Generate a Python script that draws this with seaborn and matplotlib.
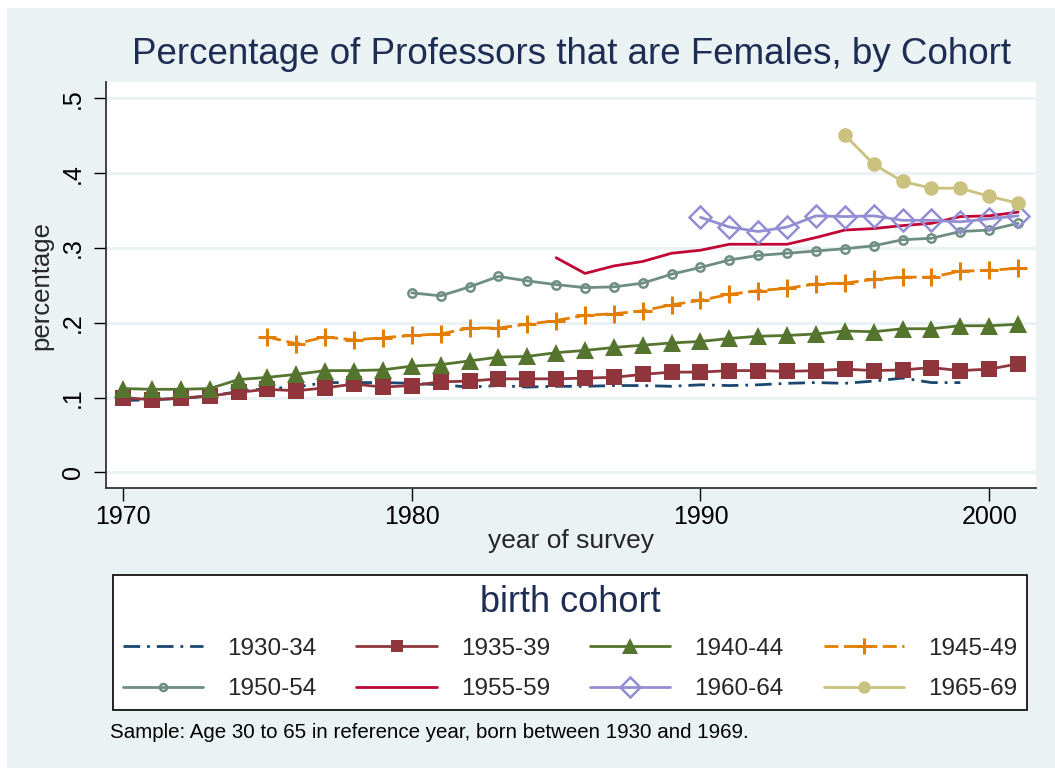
import numpy as np
import pandas as pd
import matplotlib
matplotlib.use('Agg')
import matplotlib.pyplot as plt
from matplotlib.patches import Rectangle
import seaborn as sns

# Data (share of professors that are female)
cohorts = ['1930-34', '1935-39', '1940-44', '1945-49',
           '1950-54', '1955-59', '1960-64', '1965-69']
first_year = [1970, 1970, 1970, 1975, 1980, 1985, 1990, 1995]

c1930 = [.096, .097, .099, .102, .108, .112, .114, .120, .120, .120,
         .119, .117, .114, .116, .114, .115, .115, .116, .116, .115,
         .117, .116, .117, .119, .120, .119, .122, .126, .120, .120]
c1935 = [.100, .097, .099, .102, .107, .111, .109, .113, .118, .114,
         .116, .121, .122, .125, .125, .125, .126, .127, .131, .134,
         .134, .136, .136, .135, .136, .138, .136, .137, .140, .136,
         .138, .145]
c1940 = [.112, .111, .111, .112, .124, .127, .131, .136, .136, .137,
         .142, .144, .149, .154, .155, .160, .163, .167, .170, .173,
         .175, .179, .182, .183, .185, .189, .188, .192, .192, .196,
         .196, .198]
c1945 = [.181, .172, .181, .177, .180, .183, .185, .193, .193, .198,
         .203, .210, .212, .216, .224, .230, .238, .243, .246, .252,
         .253, .258, .261, .261, .269, .270, .273]
c1950 = [.240, .236, .248, .262, .256, .251, .247, .248, .253, .265,
         .274, .284, .290, .293, .296, .299, .303, .311, .313, .322,
         .324, .333]
c1955 = [.287, .266, .276, .282, .293, .297, .305, .305, .305, .314,
         .324, .326, .330, .333, .342, .343, .348]
c1960 = [.341, .328, .322, .328, .343, .342, .343, .337, .337, .335,
         .339, .343]
c1965 = [.451, .412, .389, .380, .380, .369, .360]

series = [c1930, c1935, c1940, c1945, c1950, c1955, c1960, c1965]

rows = []
for name, start, vals in zip(cohorts, first_year, series):
    for i, v in enumerate(vals):
        rows.append({'year': start + i, 'pct': v, 'cohort': name})
df = pd.DataFrame(rows)

# Stata s2color look
colors = ['#1a476f', '#90353b', '#55752f', '#e37e00',
          '#6e8e84', '#c10534', '#938dd2', '#cac27e']
markers = [None, 's', '^', '+', 'o', None, 'D', 'o']
msizes = [0, 11, 13, 13, 6, 0, 11.5, 10.5]
mfaces = [None, None, None, None, 'none', None, 'none', None]
mews = [0, 0, 0, 2.2, 1.8, 0, 1.8, 0]
styles = [(0, (6, 2.5, 1, 2.5)), '-', '-', (0, (5, 2)), '-', '-', '-', '-']

sns.set_style('white')
plt.rcParams['font.family'] = ['Liberation Sans', 'DejaVu Sans']

bg = '#eaf2f3'
navy = '#1e2d53'
fig = plt.figure(figsize=(10.55, 7.68), dpi=100)
fig.patch.set_facecolor('white')
fig.add_artist(Rectangle((7 / 1055, 0), 1, 1 - 8 / 768, transform=fig.transFigure,
                         facecolor=bg, edgecolor='none', zorder=-10))

ax = fig.add_axes([106 / 1055, 1 - 488 / 768, 930 / 1055, 406 / 768])
ax.set_facecolor('white')

handles = []
for k, name in enumerate(cohorts):
    sub = df[df['cohort'] == name]
    sns.lineplot(data=sub, x='year', y='pct', ax=ax, color=colors[k],
                 linestyle=styles[k], linewidth=2.0, marker=markers[k],
                 markersize=msizes[k], markeredgewidth=mews[k],
                 markerfacecolor=mfaces[k] if mfaces[k] else colors[k],
                 markeredgecolor=colors[k], errorbar=None, zorder=3 + k)
    handles.append(ax.lines[-1])

ax.set_xlim(1969.41, 2001.62)
ax.set_ylim(-0.021, 0.522)
ax.set_xticks([1970, 1980, 1990, 2000])
ax.set_yticks([0, .1, .2, .3, .4, .5])
ax.set_yticklabels(['0', '.1', '.2', '.3', '.4', '.5'], rotation=90, va='center')
ax.tick_params(axis='both', direction='out', length=9, width=1, colors='black',
               labelsize=18, left=True, bottom=True)
ax.tick_params(axis='y', pad=6)
ax.grid(axis='y', color=bg, linewidth=2.2)
ax.set_axisbelow(True)
for s in ['top', 'right']:
    ax.spines[s].set_visible(False)
for s in ['left', 'bottom']:
    ax.spines[s].set_color('#333333')
    ax.spines[s].set_linewidth(1.3)

ax.set_xlabel('year of survey', fontsize=19, labelpad=0)
ax.set_ylabel('percentage', fontsize=18.5, labelpad=6)

fig.text(571 / 1055, 1 - 55 / 768,
         'Percentage of Professors that are Females, by Cohort',
         ha='center', va='center', fontsize=26.5, color=navy)

# legend filled row by row like the Stata one
order = [0, 4, 1, 5, 2, 6, 3, 7]
leg = fig.legend([handles[i] for i in order], [cohorts[i] for i in order],
                 ncol=4, loc='upper left', mode='expand', borderaxespad=0,
                 bbox_to_anchor=(113 / 1055, 1 - 575 / 768, 914 / 1055, 0),
                 bbox_transform=fig.transFigure,
                 title='birth cohort', title_fontsize=26, fontsize=17.5,
                 frameon=True, fancybox=False, edgecolor='black', framealpha=1,
                 handlelength=3.3, handletextpad=1.0, borderpad=0.4,
                 labelspacing=0.75, markerscale=0.85)
leg.get_title().set_color(navy)
leg.get_frame().set_linewidth(1.2)
leg.get_frame().set_facecolor('white')

fig.text(110 / 1055, 1 - 733 / 768,
         'Sample: Age 30 to 65 in reference year, born between 1930 and 1969.',
         ha='left', va='center', fontsize=14.75, color='black')

fig.savefig('out.png', dpi=100, facecolor=fig.get_facecolor())
